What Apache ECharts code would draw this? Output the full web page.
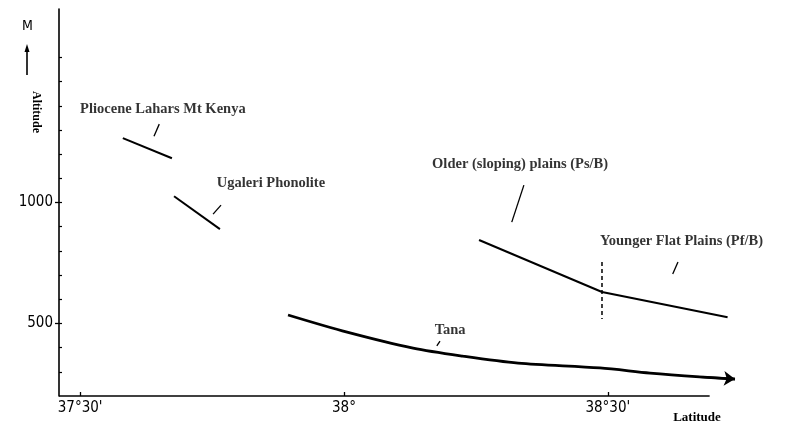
<!DOCTYPE html>
<html><head><meta charset="utf-8">
<script src="https://cdn.jsdelivr.net/npm/echarts@6/dist/echarts.min.js"></script>
<style>html,body{margin:0;padding:0;background:#fff}#c{width:786px;height:435px}</style>
</head><body><div id="c"></div>
<script>
// ---- data (longitude in degrees, altitude in m) ----
const xTickValues = [37.5, 38, 38.5];
const xTickLabels = ["37°30'", "38°", "38°30'"];
const yTickValues = [300, 400, 500, 600, 700, 800, 900, 1000, 1100, 1200, 1300, 1400, 1500, 1600];
const yLabelValues = [500, 1000];
const yLabelTexts = ["500", "1000"];
const xAxisExtent = [37.46, 38.693];   // drawn length of the x axis line
const yBase = 200;

const plioceneLahars = [[37.581, 1266], [37.674, 1183]];
const ugaleriPhonolite = [[37.678, 1026], [37.765, 890]];
const olderPlains = [[38.256, 845], [38.489, 630]];
const youngerPlains = [[38.489, 630], [38.727, 526]];
const boundaryDashed = [[38.489, 754], [38.489, 518]];
const tana = [[37.894, 535], [38.006, 464], [38.131, 398], [38.225, 365], [38.330, 336],
              [38.485, 316], [38.580, 295], [38.674, 279], [38.741, 270]];

const labelTexts = ["Pliocene Lahars Mt Kenya", "Ugaleri Phonolite", "Older (sloping) plains (Ps/B)",
                    "Younger Flat Plains (Pf/B)", "Tana"];
const labelAnchors = [[37.5, 1386], [37.759, 1080], [38.167, 1159], [38.485, 840], [38.172, 473]];
const pointers = [
  [[37.640, 1274], [37.650, 1324]],
  [[37.752, 952], [37.767, 989]],
  [[38.318, 919], [38.341, 1072]],
  [[38.623, 704], [38.633, 754]],
  [[38.176, 407], [38.182, 427]]
];

const serif = '"Liberation Serif", "DejaVu Serif", serif';
const narrow = '"DejaVu Sans Condensed", "Liberation Sans Narrow", "DejaVu Sans", sans-serif';

const chart = echarts.init(document.getElementById('c'), null, {renderer: 'canvas'});
const seg = (d, w) => ({type: 'line', data: d, symbol: 'none', clip: false, silent: true,
  lineStyle: {color: '#000', width: w}, animation: false});

const tanaLast = [tana[tana.length - 2], tana[tana.length - 1]];

chart.setOption({
  backgroundColor: '#fff',
  animation: false,
  grid: {left: 59, right: 41, top: 9, bottom: 39, containLabel: false},
  xAxis: {
    type: 'value', min: 37.46, max: 38.76,
    splitLine: {show: false},
    axisLine: {show: false},
    axisTick: {show: true, inside: true, length: 4, customValues: xTickValues, lineStyle: {color: '#000', width: 1.3}},
    axisLabel: {show: true, customValues: xTickValues, margin: 5, color: '#000', fontFamily: narrow, fontSize: 15,
      formatter: v => { const i = xTickValues.findIndex(t => Math.abs(t - v) < 1e-6); return i >= 0 ? xTickLabels[i] : ''; }}
  },
  yAxis: [{
    type: 'value', min: 200, max: 1800,
    splitLine: {show: false},
    axisLine: {show: true, lineStyle: {color: '#000', width: 1.6}},
    axisTick: {show: true, inside: true, length: 3, customValues: yTickValues, lineStyle: {color: '#000', width: 1.2}},
    axisLabel: {show: false}
  }, {
    type: 'value', min: 200, max: 1800, position: 'left',
    splitLine: {show: false},
    axisLine: {show: false},
    axisTick: {show: true, inside: false, length: 4, customValues: yLabelValues, lineStyle: {color: '#000', width: 1.3}},
    axisLabel: {show: true, customValues: yLabelValues, margin: 6, color: '#000', fontFamily: narrow, fontSize: 15,
      formatter: v => { const i = yLabelValues.indexOf(v); return i >= 0 ? yLabelTexts[i] : ''; }}
  }],
  series: [
    seg(xAxisExtent.map(x => [x, yBase]), 1.6),
    seg(plioceneLahars, 2),
    seg(ugaleriPhonolite, 2),
    seg(olderPlains, 2),
    seg(youngerPlains, 2),
    Object.assign(seg(boundaryDashed, 1.5), {lineStyle: {color: '#000', width: 1.5, type: [4, 3]}}),
    Object.assign(seg(tana, 2.8), {smooth: 0.3}),
    {
      type: 'lines', coordinateSystem: 'cartesian2d', clip: false, silent: true,
      symbol: ['none', 'arrow'], symbolSize: [9, 11],
      lineStyle: {color: '#000', width: 2.4, opacity: 1},
      data: [{coords: tanaLast}]
    },
    {
      type: 'lines', coordinateSystem: 'cartesian2d', clip: false, silent: true,
      lineStyle: {color: '#000', width: 1.3, opacity: 1},
      data: pointers.map(p => ({coords: p}))
    },
    {
      type: 'scatter', symbolSize: 0, clip: false, silent: true,
      data: labelAnchors.map((a, i) => ({value: a, name: labelTexts[i]})),
      label: {show: true, position: 'right', distance: 0, formatter: p => p.name,
        color: '#000', fontFamily: serif, fontWeight: 'bold', fontSize: 14.5}
    }
  ],
  graphic: [
    {type: 'text', left: 22, top: 19, style: {text: 'M', fill: '#000', font: '14px ' + narrow}},
    {type: 'line', shape: {x1: 27, y1: 47, x2: 27, y2: 75}, style: {stroke: '#000', lineWidth: 1.6}},
    {type: 'polygon', shape: {points: [[27, 44], [24.5, 52], [29.5, 52]]}, style: {fill: '#000'}},
    {type: 'text', x: 36, y: 112, rotation: -Math.PI / 2,
      style: {text: 'Altitude', fill: '#000', font: 'bold 12px ' + serif, align: 'center', verticalAlign: 'middle'}},
    {type: 'text', x: 697, y: 418,
      style: {text: 'Latitude', fill: '#000', font: 'bold 13px ' + serif, align: 'center', verticalAlign: 'middle'}}
  ]
});
</script></body></html>
